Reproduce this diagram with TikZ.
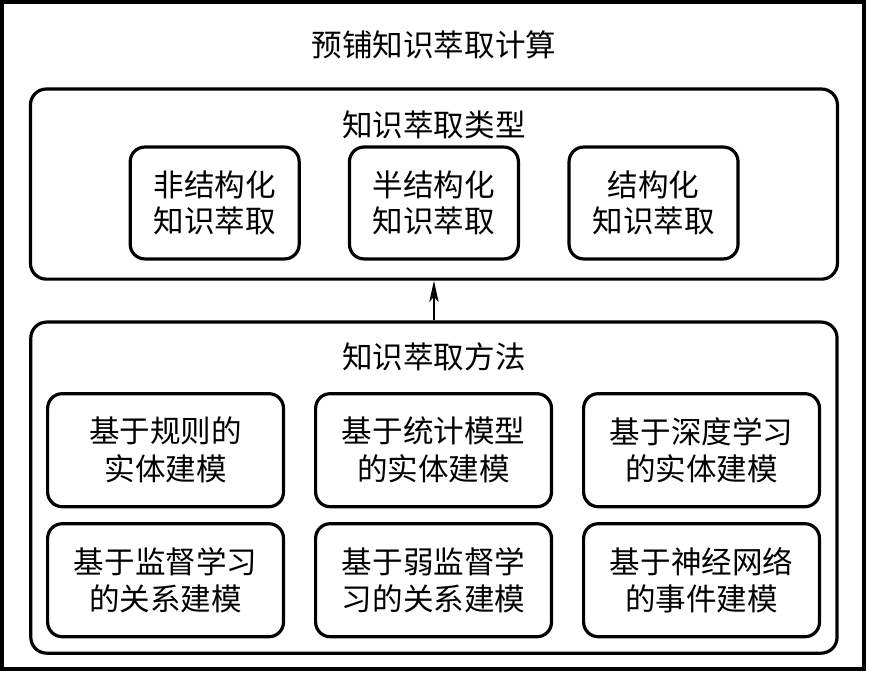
\documentclass[tikz,border=0pt]{standalone}
\usepackage{fontspec}
\usepackage{tikz}
\usetikzlibrary{arrows.meta,positioning}
\newfontfamily\cjk{Noto Sans CJK SC}

\begin{document}
\begin{tikzpicture}[
    outerframe/.style={draw, line width=3pt, minimum width=22.81cm,
      minimum height=17.65cm, inner sep=0pt},
    groupbox/.style={draw, line width=2.4pt, rounded corners=12pt,
      inner sep=0pt},
    typebox/.style={draw, line width=2.4pt, rounded corners=11pt,
      minimum width=4.47cm, minimum height=2.96cm, inner sep=0pt,
      align=center, font=\cjk\fontsize{23}{27}\selectfont},
    methodbox/.style={typebox, minimum width=6.24cm, minimum height=2.99cm,
      font=\cjk\fontsize{23}{28.5}\selectfont},
    heading/.style={inner sep=0pt, font=\cjk\fontsize{23}{27}\selectfont},
    arr/.style={-{Stealth[length=16pt, width=7pt, inset=4pt]}, line width=1.5pt},
  ]
  \useasboundingbox (0,0) rectangle (22.99,-17.86);
  % Outer frame
  \node[outerframe] (frame) at (11.456,-8.877) {};
  \node[heading] (title) at (11.48,-1.19) {预铺知识萃取计算};

  % Types of extraction
  \node[groupbox, minimum width=21.35cm, minimum height=5.03cm]
    (types) at (11.48,-4.87) {};
  \node[heading] (typetitle) at (11.48,-3.31) {知识萃取类型};
  \node[typebox] (unstruct) at (5.68,-5.37)  {非结构化\\知识萃取};
  \node[typebox] (semi)     at (11.48,-5.37) {半结构化\\知识萃取};
  \node[typebox] (struct)   at (17.29,-5.37) {结构化\\知识萃取};

  % Methods of extraction
  \node[groupbox, minimum width=21.33cm, minimum height=8.76cm]
    (methods) at (11.48,-12.90) {};
  \node[heading] (methodtitle) at (11.48,-9.45) {知识萃取方法};
  \node[methodbox] (rule)   at (4.38,-11.91)  {基于规则的\\实体建模};
  \node[methodbox] (stat)   at (11.47,-11.91) {基于统计模型\\的实体建模};
  \node[methodbox] (deep)   at (18.56,-11.91) {基于深度学习\\的实体建模};
  \node[methodbox] (sup)    at (4.38,-15.35)  {基于监督学习\\的关系建模};
  \node[methodbox] (weak)   at (11.47,-15.35) {基于弱监督学\\习的关系建模};
  \node[methodbox] (neural) at (18.56,-15.35) {基于神经网络\\的事件建模};

  % Arrow
  \draw[arr] (methods.north) -- (types.south);
\end{tikzpicture}
\end{document}
